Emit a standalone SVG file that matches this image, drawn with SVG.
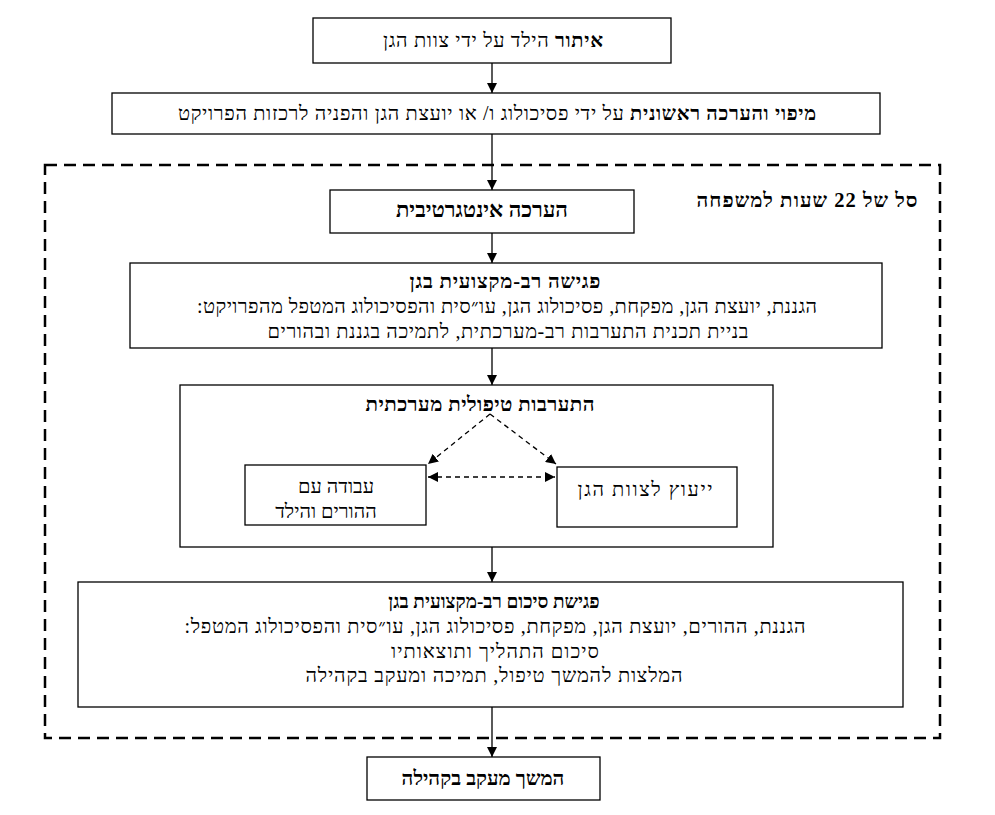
<svg xmlns="http://www.w3.org/2000/svg" width="995" height="815" viewBox="0 0 995 815">
<style>
.box{fill:#fff;stroke:#000;stroke-width:1.3}
.frame{fill:none;stroke:#000;stroke-width:2.5;stroke-dasharray:12,7}
text{font-family:"Liberation Serif","DejaVu Serif",serif;font-size:20px;fill:#000;direction:rtl;text-anchor:middle}
.bl{font-weight:bold;font-size:20.5px}
.c{stroke:#000;stroke-width:1.3;fill:none}
.d{stroke:#000;stroke-width:1.3;fill:none;stroke-dasharray:5,4}
</style>
<defs>
<marker id="ah" viewBox="0 0 10 10" refX="10" refY="5" markerWidth="10" markerHeight="10" markerUnits="userSpaceOnUse" orient="auto">
<path d="M0,0 L10,5 L0,10 z" fill="#000"/>
</marker>
<marker id="ahs" viewBox="0 0 10 10" refX="0" refY="5" markerWidth="10" markerHeight="10" markerUnits="userSpaceOnUse" orient="auto">
<path d="M10,0 L0,5 L10,10 z" fill="#000"/>
</marker>
</defs>
<rect width="995" height="815" fill="#fff"/>
<rect id="frame" class="frame" x="45" y="165" width="895" height="573"/>
<text class="bl" x="807" y="207" textLength="221" lengthAdjust="spacing">סל של 22 שעות למשפחה</text>
<g id="connectors">
<line class="c" x1="492" y1="63" x2="492" y2="93" marker-end="url(#ah)"/>
<line class="c" x1="492" y1="134" x2="492" y2="190" marker-end="url(#ah)"/>
<line class="c" x1="492" y1="233" x2="492" y2="263" marker-end="url(#ah)"/>
<line class="c" x1="492" y1="348" x2="492" y2="385" marker-end="url(#ah)"/>
<line class="c" x1="492" y1="547" x2="492" y2="582" marker-end="url(#ah)"/>
<line class="c" x1="492" y1="707" x2="492" y2="757" marker-end="url(#ah)"/>
</g>
<g id="n1"><rect class="box" x="313" y="18" width="358" height="45"/>
<text x="493" y="47" textLength="220" lengthAdjust="spacing"><tspan font-weight="bold">איתור</tspan> הילד על ידי צוות הגן</text></g>
<g id="n2"><rect class="box" x="112" y="93" width="768" height="41"/>
<text x="497" y="120" textLength="638" lengthAdjust="spacing"><tspan font-weight="bold">מיפוי והערכה ראשונית</tspan> על ידי פסיכולוג ו/ או יועצת הגן והפניה לרכזות הפרויקט</text></g>
<g id="n3"><rect class="box" x="330" y="190" width="304" height="43"/>
<text class="bl" x="482" y="217" style="font-size:22px">הערכה אינטגרטיבית</text></g>
<g id="n4"><rect class="box" x="130" y="263" width="752" height="85"/>
<text class="bl" x="505" y="288" textLength="191" lengthAdjust="spacing">פגישה רב-מקצועית בגן</text>
<text x="507" y="313" textLength="620" lengthAdjust="spacing">הגננת, יועצת הגן, מפקחת, פסיכולוג הגן, עו״סית והפסיכולוג המטפל מהפרויקט:</text>
<text x="508" y="338" textLength="481" lengthAdjust="spacing">בניית תכנית התערבות רב-מערכתית, לתמיכה בגננת ובהורים</text></g>
<g id="n5"><rect class="box" x="180" y="385" width="593" height="162"/>
<text class="bl" x="480" y="411" textLength="229" lengthAdjust="spacing">התערבות טיפולית מערכתית</text></g>
<g id="n5a"><rect class="box" x="245" y="465" width="181" height="60"/>
<text x="336" y="493">עבודה עם</text>
<text x="326" y="518">ההורים והילד</text></g>
<g id="n5b"><rect class="box" x="557" y="467" width="180" height="60"/>
<text x="645" y="496" textLength="135" lengthAdjust="spacing">ייעוץ לצוות הגן</text></g>
<g id="connectors-inner">
<line class="d" x1="490" y1="414" x2="428" y2="464" marker-end="url(#ah)"/>
<line class="d" x1="490" y1="414" x2="556" y2="464" marker-end="url(#ah)"/>
<line class="d" x1="428" y1="477" x2="555" y2="477" marker-start="url(#ahs)" marker-end="url(#ah)"/>
</g>
<g id="n6"><rect class="box" x="78" y="582" width="825" height="125"/>
<text class="bl" x="494" y="608" style="font-size:19px">פגישת סיכום רב-מקצועית בגן</text>
<text x="495" y="633" textLength="621" lengthAdjust="spacing">הגננת, ההורים, יועצת הגן, מפקחת, פסיכולוג הגן, עו״סית והפסיכולוג המטפל:</text>
<text x="495" y="658" textLength="208" lengthAdjust="spacing">סיכום התהליך ותוצאותיו</text>
<text x="494" y="682" textLength="377" lengthAdjust="spacing">המלצות להמשך טיפול, תמיכה ומעקב בקהילה</text></g>
<g id="n7"><rect class="box" x="367" y="757" width="233" height="43"/>
<text class="bl" x="483" y="785">המשך מעקב בקהילה</text></g>
</svg>
